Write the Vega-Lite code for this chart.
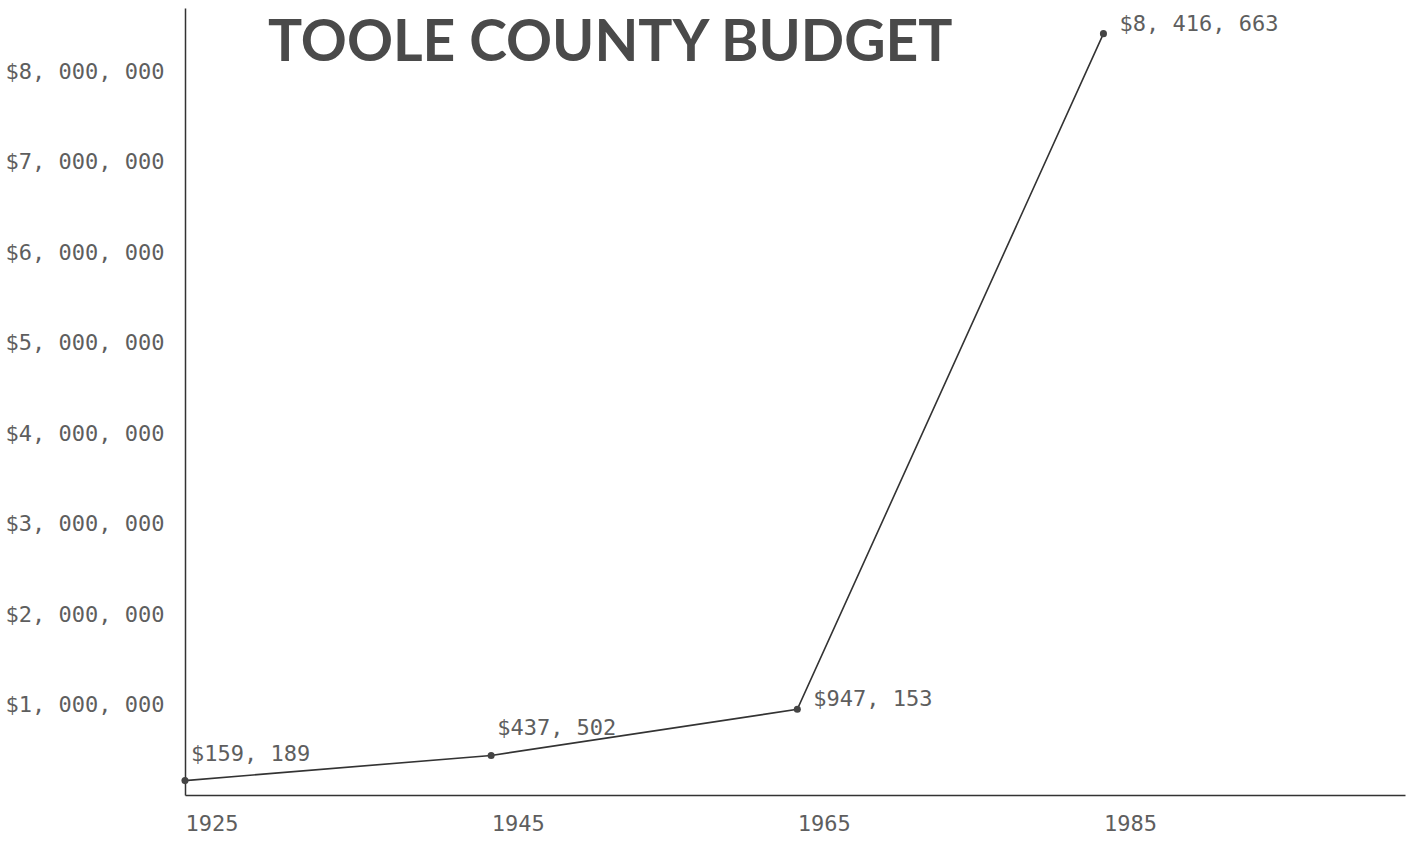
{
  "$schema": "https://vega.github.io/schema/vega-lite/v6.json",
  "autosize": "none",
  "width": 1220,
  "height": 787,
  "padding": {"left": 185, "top": 8, "right": 8, "bottom": 47},
  "background": "white",
  "config": {"view": {"stroke": null}},
  "title": {
    "text": "TOOLE COUNTY BUDGET",
    "anchor": "start",
    "frame": "group",
    "dx": 83,
    "offset": -110,
    "baseline": "alphabetic",
    "font": "Lato",
    "fontSize": 57,
    "fontWeight": "bold",
    "color": "#4a4a4a"
  },
  "data": {
    "values": [
      {"year": 1925, "budget": 159189, "label": "$159, 189"},
      {"year": 1945, "budget": 437502, "label": "$437, 502"},
      {"year": 1965, "budget": 947153, "label": "$947, 153"},
      {"year": 1985, "budget": 8416663, "label": "$8, 416, 663"}
    ]
  },
  "encoding": {
    "x": {
      "field": "year",
      "type": "quantitative",
      "scale": {"domain": [1925, 2004.7], "nice": false, "zero": false},
      "axis": {
        "title": null,
        "values": [1925, 1945, 1965, 1985],
        "format": "d",
        "ticks": false,
        "grid": false,
        "labelAlign": "left",
        "labelPadding": 18,
        "labelFont": "DejaVu Sans Mono",
        "labelFontSize": 22,
        "labelColor": "#5e5e5e",
        "domainColor": "#333",
        "domainWidth": 1.5
      }
    },
    "y": {
      "field": "budget",
      "type": "quantitative",
      "scale": {"domain": [0, 8700000], "nice": false},
      "axis": {
        "title": null,
        "values": [1000000, 2000000, 3000000, 4000000, 5000000, 6000000, 7000000, 8000000],
        "labelExpr": "replace(format(datum.value, '$,'), /,/g, ', ')",
        "ticks": false,
        "grid": false,
        "labelAlign": "left",
        "labelPadding": 180,
        "labelFont": "DejaVu Sans Mono",
        "labelFontSize": 22,
        "labelColor": "#5e5e5e",
        "domainColor": "#333",
        "domainWidth": 1.5
      }
    }
  },
  "layer": [
    {"mark": {"type": "line", "color": "#333", "strokeWidth": 1.6}},
    {"mark": {"type": "point", "filled": true, "color": "#444", "size": 50, "opacity": 1}},
    {
      "transform": [{"filter": "datum.year < 1950"}],
      "mark": {"type": "text", "align": "left", "baseline": "middle", "dx": 6, "dy": -27, "font": "DejaVu Sans Mono", "fontSize": 22, "color": "#5e5e5e"},
      "encoding": {"text": {"field": "label"}}
    },
    {
      "transform": [{"filter": "datum.year > 1950"}],
      "mark": {"type": "text", "align": "left", "baseline": "middle", "dx": 16, "dy": -10, "font": "DejaVu Sans Mono", "fontSize": 22, "color": "#5e5e5e"},
      "encoding": {"text": {"field": "label"}}
    }
  ]
}
